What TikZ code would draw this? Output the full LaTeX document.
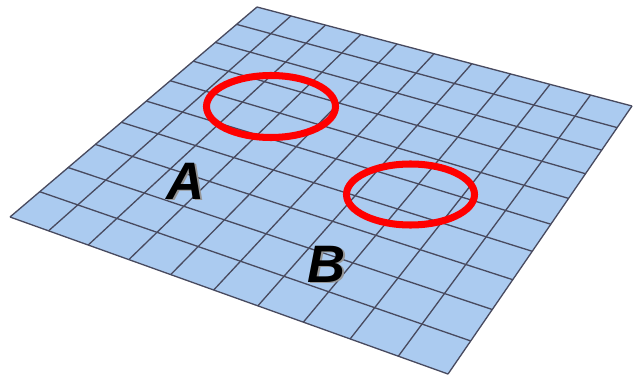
\documentclass[tikz,border=0pt]{standalone}
\usepackage{fontspec}
\setmainfont{Liberation Sans}
\begin{document}
\begin{tikzpicture}[x=0.02cm,y=-0.02cm]
\definecolor{gridfill}{RGB}{171,203,240}
\definecolor{gridline}{RGB}{72,74,95}
\definecolor{ringred}{RGB}{255,0,0}
\definecolor{shade}{RGB}{150,150,150}
\tikzset{
  gridln/.style={draw=gridline,line width=0.75pt},
  ring/.style={draw=ringred,line width=4pt},
  lbl/.style={font=\fontsize{30}{30}\selectfont\bfseries\itshape, inner sep=0pt}
}
\useasboundingbox (0,0) rectangle (635,378);
\coordinate (L) at (10,217);
\coordinate (B) at (448,374);
\coordinate (R) at (632,106);
\coordinate (T) at (257,7);
\fill[gridfill] (L) -- (B) -- (R) -- (T) -- cycle;
\foreach \i in {0,...,10}{
  \pgfmathsetmacro\t{\i/10}
  \pgfmathsetmacro\xa{(379.46*\t+10)/(1-0.13067*\t)}
  \pgfmathsetmacro\ya{(108.13*\t+217)/(1-0.13067*\t)}
  \pgfmathsetmacro\xb{(379.46*\t+306.65+10)/(1-0.13067*\t+0.23212)}
  \pgfmathsetmacro\yb{(108.13*\t-208.375+217)/(1-0.13067*\t+0.23212)}
  \draw[gridln] (\xa,\ya) -- (\xb,\yb);
  \pgfmathsetmacro\xc{(306.65*\t+10)/(1+0.23212*\t)}
  \pgfmathsetmacro\yc{(-208.375*\t+217)/(1+0.23212*\t)}
  \pgfmathsetmacro\xd{(379.46+306.65*\t+10)/(1-0.13067+0.23212*\t)}
  \pgfmathsetmacro\yd{(108.13-208.375*\t+217)/(1-0.13067+0.23212*\t)}
  \draw[gridln] (\xc,\yc) -- (\xd,\yd);
}
\draw[ring] (271,106.5) ellipse [x radius=64.5, y radius=31];
\draw[ring] (410.5,194.5) ellipse [x radius=64, y radius=30.5];
\node[lbl, text=shade] (As) at (187.5,182.5) {A};
\node[lbl] (A) at (186,181) {A};
\node[lbl, text=shade] (Bs) at (328.5,265.5) {B};
\node[lbl] (Bl) at (327,264) {B};
\end{tikzpicture}
\end{document}
